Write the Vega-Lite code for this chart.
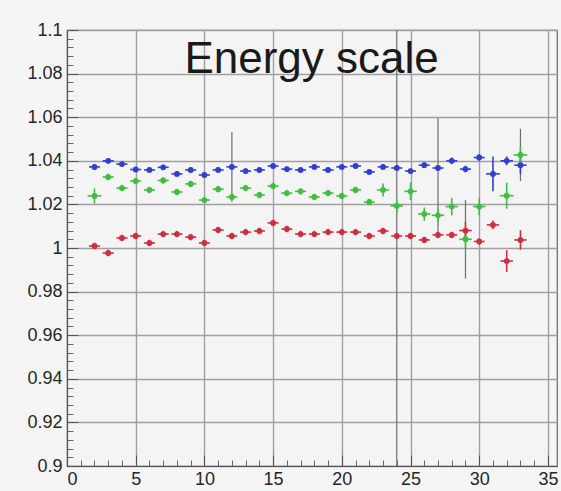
{
  "$schema": "https://vega.github.io/schema/vega-lite/v6.json",
  "width": 490,
  "height": 436,
  "autosize": {"type": "none"},
  "padding": {"left": 67, "top": 30, "right": 4, "bottom": 25},
  "background": "#f5f5f5",
  "config": {
    "view": {"fill": "#f4f4f4", "stroke": "#666666", "strokeWidth": 1.2},
    "font": "Liberation Sans"
  },
  "datasets": {
    "pts": [
      {"x": 2, "y": 1.0372, "s": "blue", "ey": 0.0012, "ex": 0.4},
      {"x": 3, "y": 1.0400, "s": "blue", "ey": 0.0012, "ex": 0.4},
      {"x": 4, "y": 1.0385, "s": "blue", "ey": 0.0012, "ex": 0.4},
      {"x": 5, "y": 1.0360, "s": "blue", "ey": 0.0012, "ex": 0.4},
      {"x": 6, "y": 1.0358, "s": "blue", "ey": 0.0012, "ex": 0.4},
      {"x": 7, "y": 1.0370, "s": "blue", "ey": 0.0012, "ex": 0.4},
      {"x": 8, "y": 1.0340, "s": "blue", "ey": 0.0012, "ex": 0.4},
      {"x": 9, "y": 1.0358, "s": "blue", "ey": 0.0012, "ex": 0.4},
      {"x": 10, "y": 1.0335, "s": "blue", "ey": 0.0012, "ex": 0.4},
      {"x": 11, "y": 1.0358, "s": "blue", "ey": 0.0012, "ex": 0.4},
      {"x": 12, "y": 1.0372, "s": "blue", "ey": 0.0012, "ex": 0.4},
      {"x": 13, "y": 1.0353, "s": "blue", "ey": 0.0012, "ex": 0.4},
      {"x": 14, "y": 1.0358, "s": "blue", "ey": 0.0012, "ex": 0.4},
      {"x": 15, "y": 1.0376, "s": "blue", "ey": 0.0012, "ex": 0.4},
      {"x": 16, "y": 1.0362, "s": "blue", "ey": 0.0012, "ex": 0.4},
      {"x": 17, "y": 1.0358, "s": "blue", "ey": 0.0012, "ex": 0.4},
      {"x": 18, "y": 1.0372, "s": "blue", "ey": 0.0012, "ex": 0.4},
      {"x": 19, "y": 1.0358, "s": "blue", "ey": 0.0012, "ex": 0.4},
      {"x": 20, "y": 1.0372, "s": "blue", "ey": 0.0012, "ex": 0.4},
      {"x": 21, "y": 1.0376, "s": "blue", "ey": 0.0012, "ex": 0.4},
      {"x": 22, "y": 1.0349, "s": "blue", "ey": 0.0012, "ex": 0.4},
      {"x": 23, "y": 1.0372, "s": "blue", "ey": 0.0012, "ex": 0.4},
      {"x": 24, "y": 1.0367, "s": "blue", "ey": 0.0012, "ex": 0.4},
      {"x": 25, "y": 1.0353, "s": "blue", "ey": 0.0012, "ex": 0.4},
      {"x": 26, "y": 1.0380, "s": "blue", "ey": 0.0012, "ex": 0.4},
      {"x": 27, "y": 1.0367, "s": "blue", "ey": 0.0012, "ex": 0.4},
      {"x": 28, "y": 1.0400, "s": "blue", "ey": 0.0015, "ex": 0.4},
      {"x": 29, "y": 1.0362, "s": "blue", "ey": 0.0015, "ex": 0.4},
      {"x": 30, "y": 1.0415, "s": "blue", "ey": 0.0015, "ex": 0.4},
      {"x": 31, "y": 1.0340, "s": "blue", "ey": 0.008, "ex": 0.5},
      {"x": 32, "y": 1.0400, "s": "blue", "ey": 0.002, "ex": 0.45},
      {"x": 33, "y": 1.0380, "s": "blue", "ey": 0.004, "ex": 0.45},
      {"x": 2, "y": 1.0239, "s": "green", "ey": 0.0035, "ex": 0.5},
      {"x": 3, "y": 1.0326, "s": "green", "ey": 0.0015, "ex": 0.4},
      {"x": 4, "y": 1.0275, "s": "green", "ey": 0.0015, "ex": 0.4},
      {"x": 5, "y": 1.0307, "s": "green", "ey": 0.0015, "ex": 0.4},
      {"x": 6, "y": 1.0266, "s": "green", "ey": 0.0015, "ex": 0.4},
      {"x": 7, "y": 1.0310, "s": "green", "ey": 0.0015, "ex": 0.4},
      {"x": 8, "y": 1.0257, "s": "green", "ey": 0.0015, "ex": 0.4},
      {"x": 9, "y": 1.0294, "s": "green", "ey": 0.0015, "ex": 0.4},
      {"x": 10, "y": 1.0220, "s": "green", "ey": 0.0015, "ex": 0.4},
      {"x": 11, "y": 1.0270, "s": "green", "ey": 0.0015, "ex": 0.4},
      {"x": 12, "y": 1.0234, "s": "green", "ey": 0.0015, "ex": 0.4},
      {"x": 13, "y": 1.0275, "s": "green", "ey": 0.0015, "ex": 0.4},
      {"x": 14, "y": 1.0243, "s": "green", "ey": 0.0015, "ex": 0.4},
      {"x": 15, "y": 1.0284, "s": "green", "ey": 0.0015, "ex": 0.4},
      {"x": 16, "y": 1.0252, "s": "green", "ey": 0.0015, "ex": 0.4},
      {"x": 17, "y": 1.0260, "s": "green", "ey": 0.0015, "ex": 0.4},
      {"x": 18, "y": 1.0234, "s": "green", "ey": 0.0015, "ex": 0.4},
      {"x": 19, "y": 1.0252, "s": "green", "ey": 0.0015, "ex": 0.4},
      {"x": 20, "y": 1.0239, "s": "green", "ey": 0.0015, "ex": 0.4},
      {"x": 21, "y": 1.0266, "s": "green", "ey": 0.0015, "ex": 0.4},
      {"x": 22, "y": 1.0211, "s": "green", "ey": 0.0015, "ex": 0.4},
      {"x": 23, "y": 1.0266, "s": "green", "ey": 0.003, "ex": 0.45},
      {"x": 24, "y": 1.0193, "s": "green", "ey": 0.003, "ex": 0.45},
      {"x": 25, "y": 1.0260, "s": "green", "ey": 0.004, "ex": 0.45},
      {"x": 26, "y": 1.0156, "s": "green", "ey": 0.003, "ex": 0.45},
      {"x": 27, "y": 1.0150, "s": "green", "ey": 0.003, "ex": 0.45},
      {"x": 28, "y": 1.0190, "s": "green", "ey": 0.004, "ex": 0.45},
      {"x": 29, "y": 1.0040, "s": "green", "ey": 0.004, "ex": 0.45},
      {"x": 30, "y": 1.0190, "s": "green", "ey": 0.004, "ex": 0.45},
      {"x": 32, "y": 1.0240, "s": "green", "ey": 0.006, "ex": 0.5},
      {"x": 33, "y": 1.0427, "s": "green", "ey": 0.004, "ex": 0.5},
      {"x": 2, "y": 1.0009, "s": "red", "ey": 0.0015, "ex": 0.4},
      {"x": 3, "y": 0.9977, "s": "red", "ey": 0.0015, "ex": 0.4},
      {"x": 4, "y": 1.0046, "s": "red", "ey": 0.0015, "ex": 0.4},
      {"x": 5, "y": 1.0055, "s": "red", "ey": 0.0015, "ex": 0.4},
      {"x": 6, "y": 1.0023, "s": "red", "ey": 0.0015, "ex": 0.4},
      {"x": 7, "y": 1.0064, "s": "red", "ey": 0.0015, "ex": 0.4},
      {"x": 8, "y": 1.0064, "s": "red", "ey": 0.0015, "ex": 0.4},
      {"x": 9, "y": 1.0050, "s": "red", "ey": 0.0015, "ex": 0.4},
      {"x": 10, "y": 1.0023, "s": "red", "ey": 0.0015, "ex": 0.4},
      {"x": 11, "y": 1.0083, "s": "red", "ey": 0.0015, "ex": 0.4},
      {"x": 12, "y": 1.0055, "s": "red", "ey": 0.0015, "ex": 0.4},
      {"x": 13, "y": 1.0073, "s": "red", "ey": 0.0015, "ex": 0.4},
      {"x": 14, "y": 1.0078, "s": "red", "ey": 0.0015, "ex": 0.4},
      {"x": 15, "y": 1.0115, "s": "red", "ey": 0.0015, "ex": 0.4},
      {"x": 16, "y": 1.0087, "s": "red", "ey": 0.0015, "ex": 0.4},
      {"x": 17, "y": 1.0064, "s": "red", "ey": 0.0015, "ex": 0.4},
      {"x": 18, "y": 1.0064, "s": "red", "ey": 0.0015, "ex": 0.4},
      {"x": 19, "y": 1.0073, "s": "red", "ey": 0.0015, "ex": 0.4},
      {"x": 20, "y": 1.0073, "s": "red", "ey": 0.0015, "ex": 0.4},
      {"x": 21, "y": 1.0073, "s": "red", "ey": 0.0015, "ex": 0.4},
      {"x": 22, "y": 1.0055, "s": "red", "ey": 0.0015, "ex": 0.4},
      {"x": 23, "y": 1.0078, "s": "red", "ey": 0.0015, "ex": 0.4},
      {"x": 24, "y": 1.0055, "s": "red", "ey": 0.0015, "ex": 0.4},
      {"x": 25, "y": 1.0055, "s": "red", "ey": 0.0015, "ex": 0.4},
      {"x": 26, "y": 1.0037, "s": "red", "ey": 0.0015, "ex": 0.4},
      {"x": 27, "y": 1.0060, "s": "red", "ey": 0.0015, "ex": 0.4},
      {"x": 28, "y": 1.0060, "s": "red", "ey": 0.0015, "ex": 0.4},
      {"x": 29, "y": 1.0080, "s": "red", "ey": 0.004, "ex": 0.45},
      {"x": 30, "y": 1.0030, "s": "red", "ey": 0.0015, "ex": 0.4},
      {"x": 31, "y": 1.0106, "s": "red", "ey": 0.002, "ex": 0.45},
      {"x": 32, "y": 0.9940, "s": "red", "ey": 0.005, "ex": 0.45},
      {"x": 33, "y": 1.0037, "s": "red", "ey": 0.0045, "ex": 0.45}
    ],
    "long": [
      {"x": 12, "y": 1.0372, "ey": 0.016},
      {"x": 24, "y": 1.0, "ey": 0.2},
      {"x": 27, "y": 1.0321, "ey": 0.0275},
      {"x": 29, "y": 1.004, "ey": 0.018},
      {"x": 33, "y": 1.0427, "ey": 0.012}
    ]
  },
  "layer": [
    {
      "data": {"name": "long"},
      "mark": {"type": "errorbar", "color": "#6e6e6e", "thickness": 1.2, "clip": true},
      "encoding": {
        "x": {"field": "x", "type": "quantitative", "scale": {"domain": [0, 35.66], "nice": false, "zero": false},
          "axis": {"orient": "bottom", "values": [1,2,3,4,6,7,8,9,11,12,13,14,16,17,18,19,21,22,23,24,26,27,28,29,31,32,33,34], "tickSize": -6, "tickColor": "#666666", "labels": false, "domain": false, "grid": false, "title": null}},
        "y": {"field": "y", "type": "quantitative", "scale": {"domain": [0.9, 1.1], "nice": false, "zero": false},
          "axis": {"orient": "left", "values": [0.904,0.908,0.912,0.916,0.924,0.928,0.932,0.936,0.944,0.948,0.952,0.956,0.964,0.968,0.972,0.976,0.984,0.988,0.992,0.996,1.004,1.008,1.012,1.016,1.024,1.028,1.032,1.036,1.044,1.048,1.052,1.056,1.064,1.068,1.072,1.076,1.084,1.088,1.092,1.096], "tickSize": -6, "tickColor": "#666666", "labels": false, "domain": false, "grid": false, "title": null}},
        "yError": {"field": "ey"}
      }
    },
    {
      "data": {"name": "pts"},
      "mark": {"type": "errorbar", "thickness": 1.6},
      "encoding": {
        "x": {"field": "x", "type": "quantitative",
          "axis": {"orient": "bottom", "values": [0,5,10,15,20,25,30,35], "tickSize": -11, "tickColor": "#555555", "labelPadding": 15, "labelFontSize": 18, "labelColor": "#262626", "labelFont": "Liberation Sans", "domainColor": "#555555", "grid": true, "gridColor": "#a0a0a0", "gridWidth": 1.4, "title": null}},
        "y": {"field": "y", "type": "quantitative",
          "axis": {"orient": "left", "values": [0.9,0.92,0.94,0.96,0.98,1,1.02,1.04,1.06,1.08,1.1], "format": "~g", "tickSize": -11, "tickColor": "#555555", "labelPadding": 16, "labelFontSize": 18, "labelColor": "#262626", "labelFont": "Liberation Sans", "domainColor": "#555555", "grid": true, "gridColor": "#a0a0a0", "gridWidth": 1.4, "title": null}},
        "yError": {"field": "ey"},
        "color": {"field": "s", "type": "nominal", "scale": {"domain": ["blue", "green", "red"], "range": ["#2f3fcf", "#3fbf3f", "#cc2f3f"]}, "legend": null}
      }
    },
    {
      "data": {"name": "pts"},
      "mark": {"type": "errorbar", "thickness": 1.6},
      "encoding": {
        "x": {"field": "x", "type": "quantitative", "axis": null},
        "y": {"field": "y", "type": "quantitative", "axis": null},
        "xError": {"field": "ex"},
        "color": {"field": "s", "type": "nominal", "legend": null}
      }
    },
    {
      "data": {"name": "pts"},
      "mark": {"type": "point", "filled": true, "size": 34, "opacity": 1},
      "encoding": {
        "x": {"field": "x", "type": "quantitative", "axis": null},
        "y": {"field": "y", "type": "quantitative", "axis": null},
        "color": {"field": "s", "type": "nominal", "legend": null}
      }
    },
    {
      "data": {"values": [{"label": "Energy scale", "x": 17.8, "y": 1.0803}]},
      "mark": {"type": "text", "fontSize": 44, "font": "Liberation Sans", "color": "#1a1a1a", "align": "center", "baseline": "alphabetic"},
      "encoding": {
        "x": {"field": "x", "type": "quantitative", "axis": null},
        "y": {"field": "y", "type": "quantitative", "axis": null},
        "text": {"field": "label"}
      }
    }
  ],
  "resolve": {"axis": {"x": "independent", "y": "independent"}}
}
